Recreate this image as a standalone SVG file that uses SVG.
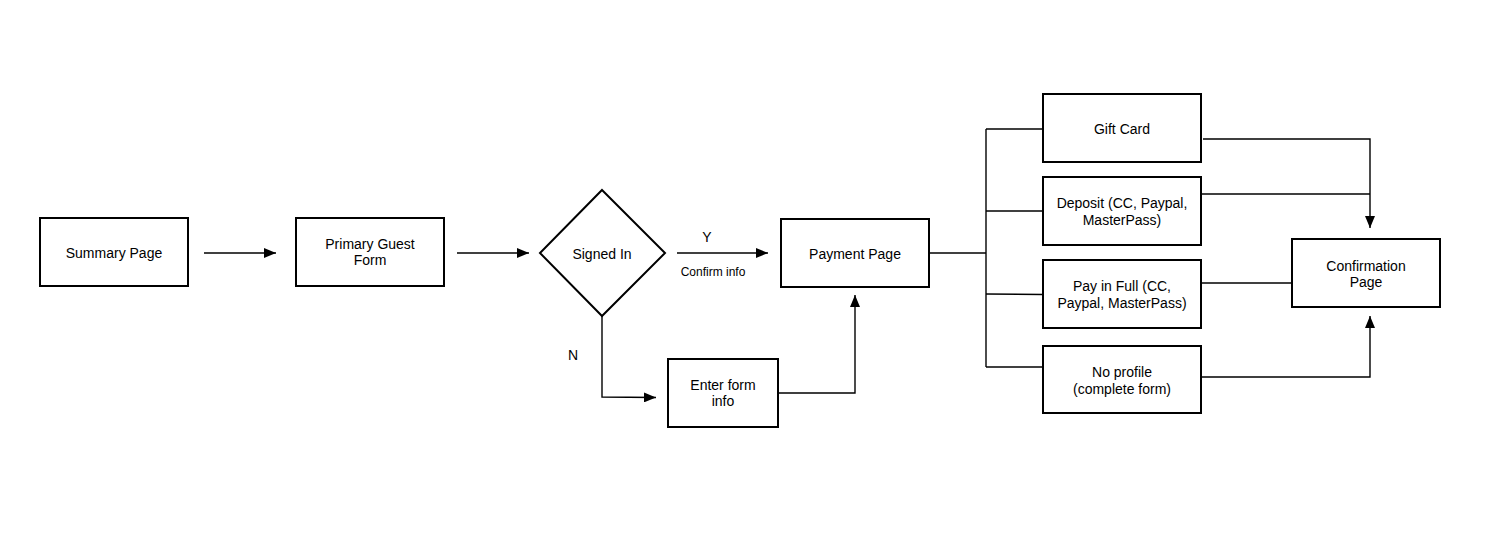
<svg xmlns="http://www.w3.org/2000/svg" width="1500" height="545" viewBox="0 0 1500 545">
<style>
.box{fill:#fff;stroke:#000;stroke-width:2}
.t{font-family:"Liberation Sans",Arial,sans-serif;font-size:14px;fill:#000;text-anchor:middle}
.s{font-size:12px}
.c{fill:none;stroke:#000;stroke-width:1.4}
</style>
<defs>
<marker id="ah" viewBox="0 0 12 10" refX="12" refY="5" markerWidth="12" markerHeight="10" markerUnits="userSpaceOnUse" orient="auto">
<path d="M0,0 L12,5 L0,10 Z" fill="#000"/>
</marker>
</defs>
<rect width="1500" height="545" fill="#fff"/>
<g id="connectors">
<line class="c" x1="204" y1="253" x2="276" y2="253" marker-end="url(#ah)"/>
<line class="c" x1="457" y1="253" x2="529" y2="253" marker-end="url(#ah)"/>
<line class="c" x1="677" y1="253" x2="768" y2="253" marker-end="url(#ah)"/>
<polyline class="c" points="602,316 602,397 656,397.5" marker-end="url(#ah)"/>
<polyline class="c" points="778,393 855,393 855,295" marker-end="url(#ah)"/>
<line class="c" x1="929" y1="253" x2="986" y2="253"/>
<line class="c" x1="986" y1="129" x2="986" y2="367"/>
<line class="c" x1="986" y1="129" x2="1043" y2="129"/>
<line class="c" x1="986" y1="211" x2="1043" y2="211"/>
<line class="c" x1="986" y1="294" x2="1043" y2="294.5"/>
<line class="c" x1="986" y1="367" x2="1043" y2="367"/>
<polyline class="c" points="1203,139 1370,139 1370,228" marker-end="url(#ah)"/>
<line class="c" x1="1201" y1="194" x2="1370" y2="194"/>
<line class="c" x1="1201" y1="283" x2="1292" y2="283"/>
<polyline class="c" points="1201,377 1370,377 1370,316" marker-end="url(#ah)"/>
<text class="t" x="707" y="242">Y</text>
<text class="t s" x="713" y="276">Confirm info</text>
<text class="t" x="573" y="360">N</text>
</g>
<g id="summary">
<rect class="box" x="40" y="218" width="148" height="68"/>
<text class="t" x="114" y="258">Summary Page</text>
</g>
<g id="primary">
<rect class="box" x="296" y="218" width="148" height="68"/>
<text class="t" x="370" y="249">Primary Guest</text>
<text class="t" x="370" y="265">Form</text>
</g>
<g id="signed">
<polygon class="box" points="602,190 665,253 602,316 540,253"/>
<text class="t" x="602" y="259">Signed In</text>
</g>
<g id="payment">
<rect class="box" x="781" y="219" width="148" height="68"/>
<text class="t" x="855" y="259">Payment Page</text>
</g>
<g id="enterform">
<rect class="box" x="668" y="359" width="110" height="68"/>
<text class="t" x="723" y="390">Enter form</text>
<text class="t" x="723" y="406">info</text>
</g>
<g id="giftcard">
<rect class="box" x="1043" y="94" width="158" height="68"/>
<text class="t" x="1122" y="134">Gift Card</text>
</g>
<g id="deposit">
<rect class="box" x="1043" y="177" width="158" height="68"/>
<text class="t" x="1122" y="208">Deposit (CC, Paypal,</text>
<text class="t" x="1122" y="225">MasterPass)</text>
</g>
<g id="payfull">
<rect class="box" x="1043" y="260" width="158" height="68"/>
<text class="t" x="1122" y="291">Pay in Full (CC,</text>
<text class="t" x="1122" y="308">Paypal, MasterPass)</text>
</g>
<g id="noprofile">
<rect class="box" x="1043" y="346" width="158" height="67"/>
<text class="t" x="1122" y="377">No profile</text>
<text class="t" x="1122" y="394">(complete form)</text>
</g>
<g id="confirmation">
<rect class="box" x="1292" y="239" width="148" height="68"/>
<text class="t" x="1366" y="271">Confirmation</text>
<text class="t" x="1366" y="287">Page</text>
</g>
</svg>
